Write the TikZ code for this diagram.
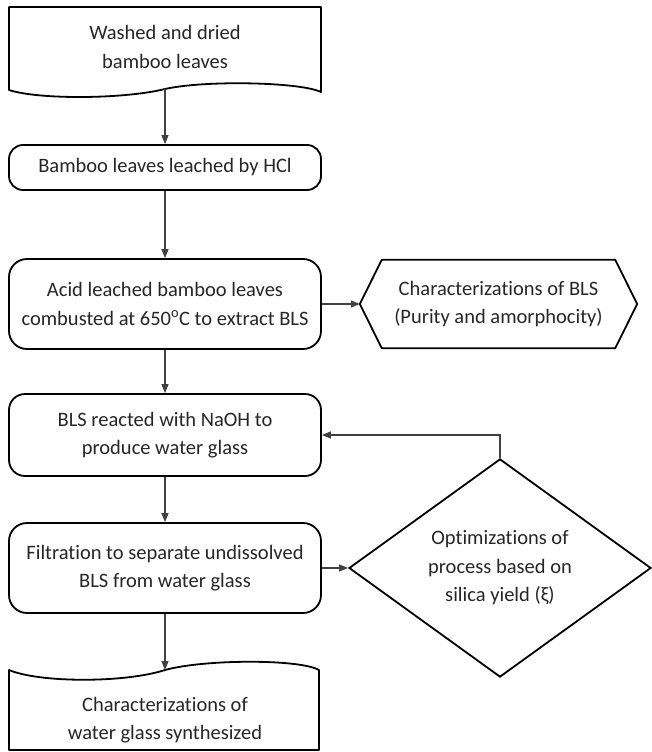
\documentclass[tikz,border=0pt]{standalone}
\usepackage{fontspec}
\setmainfont[Ligatures={NoCommon,NoRare}]{Carlito}
\usetikzlibrary{arrows.meta,shapes.geometric}
\begin{document}
\begin{tikzpicture}[x=1pt,y=-1pt,
  txt/.style={align=center,font=\fontsize{20.5}{28.5}\selectfont,text=black!85,inner sep=0pt},
  procbox/.style={txt,draw=black,line width=1.8pt,rounded corners=14pt,minimum width=312pt},
  shapeline/.style={draw=black,line width=1.8pt,line join=round},
  conn/.style={draw=black!75,line width=1.2pt,-{Triangle[length=9pt,width=7pt]}}]
\useasboundingbox (0,0) rectangle (652,752);
% top document shape
\node[txt] (b1) at (165,47) {Washed and dried\\bamboo leaves};
\coordinate (b1b) at (165,89);
\draw[shapeline] (9,7) -- (321,7) -- (321,92)
  .. controls (300,82) and (205,80) .. (b1b)
  .. controls (125,99) and (40,100) .. (9,90) -- cycle;
% process boxes
\node[procbox,minimum height=45pt] (b2) at (165,167.5) {Bamboo leaves leached by HCl};
\node[procbox,minimum height=90pt,rounded corners=18pt] (b3) at (165,304) {Acid leached bamboo leaves\\combusted at 650\textsuperscript{o}C to extract BLS};
\node[procbox,minimum height=82pt,rounded corners=16pt] (b4) at (165,435) {BLS reacted with NaOH to\\produce water glass};
\node[procbox,minimum height=90pt,rounded corners=18pt] (b5) at (165,568) {Filtration to separate undissolved\\BLS from water glass};
% hexagon
\node[txt,minimum width=277pt,minimum height=88pt] (hex) at (498.5,304) {Characterizations of BLS\\(Purity and amorphocity)};
\draw[shapeline] (hex.west) -- ([xshift=22pt]hex.north west) -- ([xshift=-22pt]hex.north east)
  -- (hex.east) -- ([xshift=-22pt]hex.south east) -- ([xshift=22pt]hex.south west) -- cycle;
% diamond
\node[txt,shape=diamond,draw=black,line width=1.8pt,minimum width=302pt,minimum height=174pt] (dia) at (500,568) {Optimizations of\\process based on\\silica yield (ξ)};
% bottom document shape
\node[txt] (b6) at (165,720) {Characterizations of\\water glass synthesized};
\coordinate (b6t) at (165,670);
\draw[shapeline] (9,670) .. controls (40,683) and (125,683) .. (b6t)
  .. controls (205,659) and (300,659) .. (319,670) -- (319,750) -- (9,750) -- cycle;
% connectors
\draw[conn] (b1b) -- (b2.north);
\draw[conn] (b2.south) -- (b3.north);
\draw[conn] (b3.east) -- (hex.west);
\draw[conn] (b3.south) -- (b4.north);
\draw[conn] (b4.south) -- (b5.north);
\draw[conn] (b5.east) -- (dia.west);
\draw[conn] (dia.north) |- (b4.east);
\draw[conn] (b5.south) -- (b6t);
\end{tikzpicture}
\end{document}
